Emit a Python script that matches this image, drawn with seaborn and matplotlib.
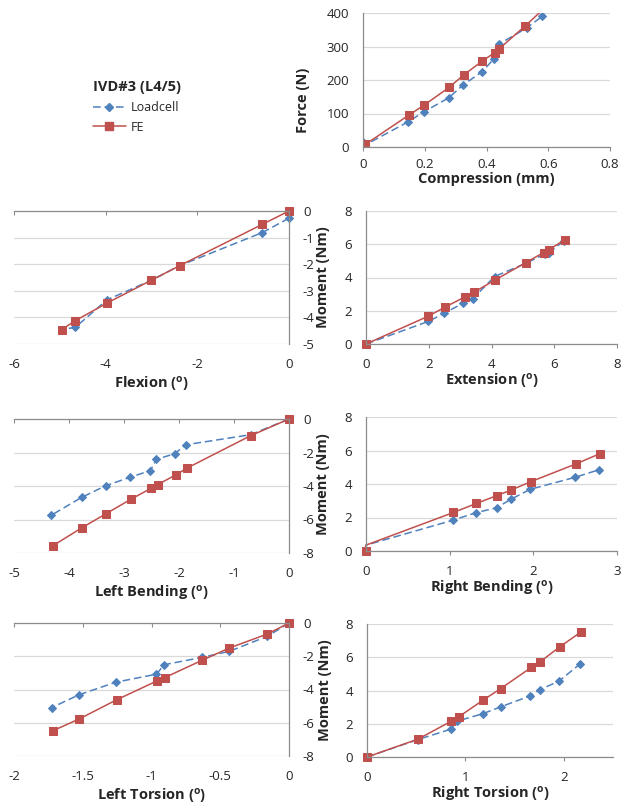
import numpy as np
import pandas as pd
import matplotlib
matplotlib.use("Agg")
import matplotlib.pyplot as plt
from matplotlib.lines import Line2D
from matplotlib.ticker import FuncFormatter
import seaborn as sns

sns.set_style("white")
plt.rcParams['font.family'] = ['Open Sans', 'DejaVu Sans']
plt.rcParams['axes.unicode_minus'] = False
plt.rcParams['mathtext.default'] = 'regular'

BLUE = "#4F81BD"
RED = "#C0504D"
GRID = "#D9D9D9"
AXC = "#8C8C8C"

# compression: force (N) vs displacement (mm)
comp_lc_x = [0.0, 0.005, 0.146, 0.197, 0.278, 0.324, 0.386, 0.424, 0.44, 0.53, 0.58]
comp_lc_y = [15, 5, 75, 105, 147, 185, 225, 263, 307, 355, 390]
comp_fe_x = [0.0, 0.008, 0.148, 0.198, 0.279, 0.326, 0.387, 0.427, 0.441, 0.526, 0.6]
comp_fe_y = [0, 8, 95, 125, 178, 215, 257, 282, 293, 362, 425]

# flexion
flex_lc_x = [0.0, -0.58, -2.38, -3.01, -3.97, -4.66, -4.96]
flex_lc_y = [-0.27, -0.81, -2.05, -2.61, -3.34, -4.37, -4.46]
flex_fe_x = [0.0, -0.58, -2.38, -3.01, -3.97, -4.66, -4.96]
flex_fe_y = [0.0, -0.5, -2.05, -2.61, -3.46, -4.12, -4.46]

# extension
ext_lc_x = [0, 1.99, 2.5, 3.1, 3.4, 4.1, 5.1, 5.69, 5.82, 6.3]
ext_lc_y = [0, 1.36, 1.86, 2.46, 2.72, 4.06, 4.86, 5.4, 5.46, 6.2]
ext_fe_x = [0, 1.97, 2.52, 3.14, 3.43, 4.12, 5.1, 5.66, 5.82, 6.33]
ext_fe_y = [0, 1.66, 2.22, 2.82, 3.1, 3.86, 4.9, 5.5, 5.66, 6.26]

# left bending
lb_lc_x = [0, -0.70, -1.88, -2.08, -2.41, -2.52, -2.89, -3.33, -3.77, -4.32]
lb_lc_y = [0, -0.94, -1.54, -2.08, -2.4, -3.08, -3.48, -3.98, -4.68, -5.74]
lb_fe_x = [0, -0.70, -1.86, -2.06, -2.39, -2.51, -2.88, -3.33, -3.77, -4.30]
lb_fe_y = [0, -1.0, -2.94, -3.34, -3.92, -4.14, -4.8, -5.66, -6.5, -7.58]

# right bending (second point is the line start, drawn without marker)
rb_lc_x = [0, 0, 1.04, 1.31, 1.56, 1.73, 1.96, 2.5, 2.79]
rb_lc_y = [0, 0.35, 1.84, 2.28, 2.58, 3.08, 3.68, 4.4, 4.86]
rb_fe_x = [0, 0, 1.045, 1.32, 1.56, 1.735, 1.97, 2.51, 2.8]
rb_fe_y = [0, 0.35, 2.3, 2.84, 3.3, 3.64, 4.14, 5.2, 5.82]

# left torsion
lt_lc_x = [0, -0.157, -0.436, -0.634, -0.908, -0.964, -1.259, -1.528, -1.726]
lt_lc_y = [0, -0.8, -1.71, -2.07, -2.51, -3.08, -3.56, -4.32, -5.09]
lt_fe_x = [0, -0.157, -0.436, -0.634, -0.903, -0.959, -1.254, -1.525, -1.72]
lt_fe_y = [0, -0.66, -1.51, -2.25, -3.28, -3.48, -4.62, -5.77, -6.49]

# right torsion
rt_lc_x = [0, 0.517, 0.851, 0.912, 1.18, 1.36, 1.66, 1.76, 1.95, 2.16]
rt_lc_y = [0, 1.05, 1.67, 2.15, 2.61, 3.02, 3.68, 4.06, 4.56, 5.57]
rt_fe_x = [0, 0.517, 0.855, 0.93, 1.18, 1.36, 1.67, 1.76, 1.96, 2.17]
rt_fe_y = [0, 1.07, 2.15, 2.41, 3.42, 4.12, 5.39, 5.73, 6.63, 7.5]

deg = r" ($^{o}$)"
TICK_FS = 9.5
LAB_FS = 10.5

fig = plt.figure(figsize=(6.29, 8.11), dpi=100)
W, H = 629, 811


def add_ax(x0, x1, y0, y1):
    return fig.add_axes([x0 / W, 1 - y1 / H, (x1 - x0) / W, (y1 - y0) / H])


def draw(ax, lc_x, lc_y, fe_x, fe_y, clip=False, skip=None):
    df = pd.DataFrame({
        'x': lc_x + fe_x,
        'y': lc_y + fe_y,
        'series': ['Loadcell'] * len(lc_x) + ['FE'] * len(fe_x),
    })
    sns.lineplot(data=df, x='x', y='y', hue='series', style='series',
                 hue_order=['Loadcell', 'FE'], style_order=['Loadcell', 'FE'],
                 palette={'Loadcell': BLUE, 'FE': RED},
                 markers={'Loadcell': 'D', 'FE': 's'},
                 dashes={'Loadcell': (5, 2.5), 'FE': ''},
                 sort=False, estimator=None, lw=1.1, legend=False, ax=ax)
    for ln in ax.lines:
        c = ln.get_color()
        ln.set_markeredgecolor(c)
        ln.set_markerfacecolor(c)
        ln.set_markersize(5.5 if ln.get_marker() == 's' else 3.6)
        ln.set_clip_on(clip)
        if skip is not None:
            n = len(ln.get_xdata())
            ln.set_markevery([i for i in range(n) if i not in skip])
    ax.set_xlabel('')
    ax.set_ylabel('')


fmt = FuncFormatter(lambda v, p: "%g" % v)


def style_right(ax, xlim, xticks, ylim, yticks, xlabel, ylabel, ylab_pos, xpad=7):
    ax.set_xlim(*xlim)
    ax.set_ylim(*ylim)
    ax.set_xticks(xticks)
    ax.set_yticks(yticks)
    ax.xaxis.set_major_formatter(fmt)
    ax.yaxis.set_major_formatter(fmt)
    for s in ['top', 'right']:
        ax.spines[s].set_visible(False)
    for s in ['left', 'bottom']:
        ax.spines[s].set_color(AXC)
        ax.spines[s].set_linewidth(0.9)
    ax.yaxis.grid(True, color=GRID, lw=0.9)
    ax.xaxis.grid(False)
    ax.tick_params(axis='x', bottom=True, direction='out', length=3, color=AXC,
                   pad=xpad, labelsize=TICK_FS)
    ax.tick_params(axis='y', left=False, length=0, pad=10, labelsize=TICK_FS)
    ax.set_xlabel(xlabel, fontweight='bold', fontsize=LAB_FS, labelpad=1)
    ax.set_ylabel(ylabel, fontweight='bold', fontsize=LAB_FS)
    ax.yaxis.set_label_coords(*ylab_pos)


def style_left(ax, xlim, xticks, ylim, yticks, xlabel):
    ax.set_xlim(*xlim)
    ax.set_ylim(*ylim)
    ax.set_xticks(xticks)
    ax.set_yticks(yticks)
    ax.xaxis.set_major_formatter(fmt)
    ax.yaxis.set_major_formatter(fmt)
    for s in ['left', 'bottom']:
        ax.spines[s].set_visible(False)
    for s in ['top', 'right']:
        ax.spines[s].set_color(AXC)
        ax.spines[s].set_linewidth(0.9)
    ax.yaxis.grid(True, color=GRID, lw=0.9)
    ax.xaxis.grid(False)
    ax.yaxis.tick_right()
    ax.tick_params(axis='x', top=True, bottom=False, labeltop=False, labelbottom=True,
                   direction='in', length=3, color=AXC, pad=10, labelsize=TICK_FS)
    ax.tick_params(axis='y', right=False, left=False, length=0, pad=10, labelsize=TICK_FS)
    ax.set_xlabel(xlabel, fontweight='bold', fontsize=LAB_FS, labelpad=3)


# compression
ax = add_ax(363, 610, 13, 147)
draw(ax, comp_lc_x, comp_lc_y, comp_fe_x, comp_fe_y, clip=True)
style_right(ax, (0, 0.8), [0, 0.2, 0.4, 0.6, 0.8], (0, 400), range(0, 401, 100),
            "Compression (mm)", "Force (N)", (-0.215, 0.35), xpad=5)

# flexion
ax = add_ax(14, 289, 211, 344)
draw(ax, flex_lc_x, flex_lc_y, flex_fe_x, flex_fe_y)
style_left(ax, (-6, 0), [-6, -4, -2, 0], (-5, 0), range(-5, 1), "Flexion" + deg)

# extension
ax = add_ax(366, 617, 211, 344)
draw(ax, ext_lc_x, ext_lc_y, ext_fe_x, ext_fe_y)
style_right(ax, (0, 8), range(0, 9, 2), (0, 8), range(0, 9, 2),
            "Extension" + deg, "Moment (Nm)", (-0.143, 0.5))

# left bending
ax = add_ax(14, 289, 419, 553)
draw(ax, lb_lc_x, lb_lc_y, lb_fe_x, lb_fe_y)
style_left(ax, (-5, 0), range(-5, 1), (-8, 0), range(-8, 1, 2), "Left Bending" + deg)

# right bending
ax = add_ax(366, 617, 417, 551)
draw(ax, rb_lc_x, rb_lc_y, rb_fe_x, rb_fe_y, skip=[1])
style_right(ax, (0, 3), range(0, 4), (0, 8), range(0, 9, 2),
            "Right Bending" + deg, "Moment (Nm)", (-0.143, 0.5))

# left torsion
ax = add_ax(14, 289, 623, 756)
draw(ax, lt_lc_x, lt_lc_y, lt_fe_x, lt_fe_y)
style_left(ax, (-2, 0), [-2, -1.5, -1, -0.5, 0], (-8, 0), range(-8, 1, 2),
           "Left Torsion" + deg)

# right torsion
ax = add_ax(367, 613, 624, 757)
draw(ax, rt_lc_x, rt_lc_y, rt_fe_x, rt_fe_y)
style_right(ax, (0, 2.5), [0, 1, 2], (0, 8), range(0, 9, 2),
            "Right Torsion" + deg, "Moment (Nm)", (-0.143, 0.5))

handles = [
    Line2D([], [], color=BLUE, ls=(0, (5, 2.5)), lw=1.1, marker='D', ms=3.6),
    Line2D([], [], color=RED, ls='-', lw=1.1, marker='s', ms=5.5),
]
fig.legend(handles, ['Loadcell', 'FE'], title='IVD#3 (L4/5)', loc='upper left',
           bbox_to_anchor=(93 / W, 1 - 80 / H), frameon=False, fontsize=9,
           title_fontproperties={'weight': 'bold', 'size': 10.5},
           handlelength=2.6, handletextpad=0.4, labelspacing=0.55,
           borderpad=0, borderaxespad=0, alignment='left')

fig.savefig("out.png", dpi=100)
